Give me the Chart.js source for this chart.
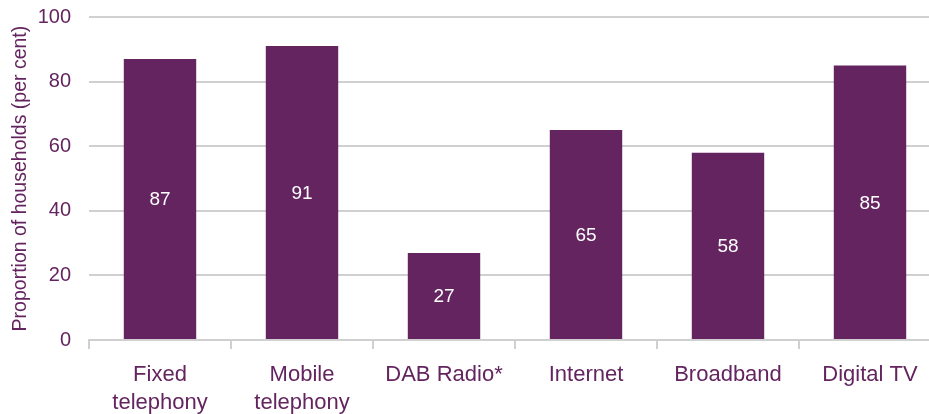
<!DOCTYPE html>
<html>
<head>
<meta charset="utf-8">
<script src="https://cdn.jsdelivr.net/npm/chart.js@4/dist/chart.umd.min.js"></script>
<style>
html,body{margin:0;padding:0;background:#fff;overflow:hidden;}
#outer{position:relative;width:929px;height:414px;overflow:hidden;}
#wrap{position:absolute;left:0;top:-13px;width:941px;height:442px;}
</style>
</head>
<body>
<div id="outer"><div id="wrap"><canvas id="c"></canvas></div></div>
<script>
const categories = [["Fixed","telephony"],["Mobile","telephony"],"DAB Radio*","Internet","Broadband","Digital TV"];
const values = [87, 91, 27, 65, 58, 85];
const yTicks = [0, 20, 40, 60, 80, 100];
const yTitle = "Proportion of households (per cent)";

const purple = '#63245f';
const textColor = '#63245f';
const gridColor = '#d0d0d0';
const fam = '"Liberation Sans", Arial, sans-serif';

const labelPlugin = {
  id: 'barLabels',
  afterDatasetsDraw(chart) {
    const ctx = chart.ctx;
    const meta = chart.getDatasetMeta(0);
    ctx.save();
    ctx.fillStyle = '#ffffff';
    ctx.font = '19px ' + fam;
    ctx.textAlign = 'center';
    ctx.textBaseline = 'middle';
    meta.data.forEach((bar, i) => {
      const y = (bar.y + bar.base) / 2;
      ctx.fillText(String(values[i]), bar.x, y + 1);
    });
    ctx.restore();
  }
};

new Chart(document.getElementById('c'), {
  type: 'bar',
  data: {
    labels: categories,
    datasets: [{
      data: values,
      backgroundColor: purple,
      barPercentage: 0.51,
      categoryPercentage: 1.0
    }]
  },
  options: {
    responsive: true,
    maintainAspectRatio: false,
    animation: false,
    layout: { padding: { top: 0, right: 0, left: 9, bottom: 0 } },
    plugins: { legend: { display: false }, tooltip: { enabled: false } },
    scales: {
      x: {
        grid: { drawOnChartArea: false, drawTicks: true, tickLength: 9, color: gridColor, lineWidth: 2, offset: true },
        border: { display: true, color: gridColor, width: 2 },
        ticks: { color: textColor, font: { family: fam, size: 22, lineHeight: 1.27 }, padding: 12, maxRotation: 0, autoSkip: false }
      },
      y: {
        min: 0, max: 100,
        afterBuildTicks(axis) { axis.ticks = yTicks.map(v => ({ value: v })); },
        afterFit(scale) { scale.width = 80; },
        grid: { color: gridColor, lineWidth: 2, drawTicks: false },
        border: { display: false },
        ticks: { color: textColor, font: { family: fam, size: 20 }, padding: 18 },
        title: { display: true, text: yTitle, color: textColor, font: { family: fam, size: 19.5 }, padding: { top: 0, bottom: 6 } }
      }
    }
  },
  plugins: [labelPlugin]
});
</script>
</body>
</html>
